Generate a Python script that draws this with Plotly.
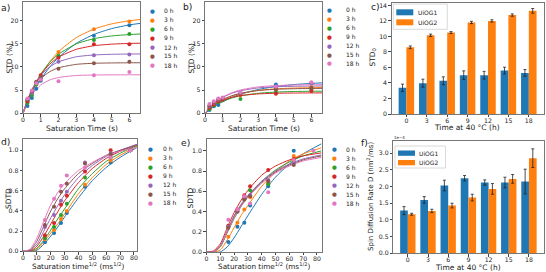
import plotly.graph_objects as go

W, H = 546, 272
def px(x): return x / W
def py(y): return 1 - y / H

FONT = "DejaVu Sans"
HOURS = ["0 h", "3 h", "6 h", "9 h", "12 h", "15 h", "18 h"]
COLORS = ["#1f77b4", "#ff7f0e", "#2ca02c", "#d62728", "#9467bd", "#8c564b", "#e377c2"]

# ---------- panel a / b : STD vs saturation time ----------
T_SAT = [0.25, 0.5, 0.75, 1, 2, 4, 6]
A_STD = [
    [1.6, 3.3, 5.3, 7.0, 12.2, 16.7, 19.0],
    [2.4, 4.3, 6.5, 7.7, 13.2, 18.1, 19.8],
    [2.2, 3.9, 6.2, 7.5, 12.4, 15.8, 17.1],
    [2.6, 4.5, 6.7, 8.2, 12.0, 14.9, 14.9],
    [3.0, 4.4, 6.6, 7.6, 11.1, 12.5, 12.7],
    [2.8, 4.8, 6.8, 7.9, 9.6, 10.8, 11.1],
    [3.2, 4.9, 6.5, 7.3, 6.9, 8.2, 8.9],
]
T_FIT = [0, 0.25, 0.5, 1, 1.5, 2, 3, 4, 5, 6, 6.6]
A_FIT = [
    [0, 2.15, 4.06, 7.32, 9.94, 12.03, 15.07, 17.01, 18.26, 19.06, 19.39],
    [0, 2.47, 4.65, 8.26, 11.08, 13.28, 16.31, 18.16, 19.28, 19.95, 20.22],
    [0, 2.66, 4.90, 8.42, 10.94, 12.73, 14.96, 16.09, 16.68, 16.98, 17.10],
    [0, 2.74, 4.98, 8.33, 10.58, 12.10, 13.79, 14.57, 14.91, 15.07, 15.11],
    [0, 2.86, 5.08, 8.14, 9.98, 11.10, 12.18, 12.58, 12.72, 12.78, 12.80],
    [0, 2.72, 4.76, 7.45, 8.96, 9.81, 10.55, 10.79, 10.86, 10.89, 10.90],
    [0, 2.35, 4.04, 6.11, 7.18, 7.72, 8.15, 8.26, 8.29, 8.30, 8.30],
]
B_STD = [
    [0.7, 1.5, 1.8, 2.8, 4.2, 6.2, 6.5],
    [1.0, 1.8, 2.5, 3.0, 4.0, 5.0, 5.6],
    [0.9, 1.7, 2.4, 2.9, 3.1, 4.5, 5.2],
    [1.2, 1.9, 2.6, 3.0, 4.0, 4.2, 4.8],
    [1.5, 2.3, 2.9, 3.3, 4.3, 5.5, 6.5],
    [1.7, 2.4, 3.0, 3.3, 4.4, 5.2, 5.5],
    [2.0, 2.6, 3.2, 3.4, 4.5, 5.8, 6.7],
]
B_FIT = [
    [0, 0.74, 1.40, 2.52, 3.41, 4.12, 5.13, 5.78, 6.19, 6.45, 6.56],
    [0, 0.92, 1.68, 2.86, 3.68, 4.25, 4.94, 5.28, 5.44, 5.52, 5.55],
    [0, 0.84, 1.53, 2.58, 3.29, 3.77, 4.32, 4.58, 4.70, 4.75, 4.77],
    [0, 0.97, 1.73, 2.78, 3.42, 3.81, 4.18, 4.32, 4.37, 4.39, 4.40],
    [0, 1.15, 2.08, 3.43, 4.30, 4.86, 5.47, 5.72, 5.82, 5.87, 5.88],
    [0, 0.98, 1.78, 2.98, 3.77, 4.31, 4.91, 5.18, 5.30, 5.36, 5.37],
    [0, 1.17, 2.11, 3.50, 4.42, 5.03, 5.69, 5.98, 6.10, 6.16, 6.17],
]

# ---------- panel c / f : bars ----------
BAR_CATS = ["0", "3", "6", "9", "12", "15", "18"]
C_G1 = [3.38, 3.98, 4.28, 5.0, 5.0, 5.6, 5.3]
C_G1_ERR = [0.47, 0.51, 0.51, 0.56, 0.5, 0.43, 0.43]
C_G2 = [8.6, 10.15, 10.5, 11.8, 12.0, 12.75, 13.3]
C_G2_ERR = [0.17, 0.15, 0.12, 0.15, 0.15, 0.15, 0.3]
F_G1 = [1.28, 1.60, 2.03, 2.25, 2.12, 2.12, 2.15]
F_G1_ERR = [0.12, 0.10, 0.16, 0.08, 0.08, 0.16, 0.37]
F_G2 = [1.17, 1.27, 1.43, 1.67, 1.93, 2.23, 2.85]
F_G2_ERR = [0.03, 0.05, 0.07, 0.10, 0.16, 0.13, 0.28]

# ---------- panel d / e : SDTD vs sqrt(time) ----------
X_SQRT = [15.8, 22.4, 27.4, 31.6, 44.7, 63.2, 77.5]
D_SDTD = [
    [0.09, 0.18, 0.28, 0.38, 0.64, 0.88, 1.00],
    [0.12, 0.21, 0.32, 0.40, 0.66, 0.90, 1.00],
    [0.13, 0.24, 0.36, 0.47, 0.73, 0.93, 1.00],
    [0.16, 0.28, 0.46, 0.55, 0.79, 1.00, 1.00],
    [0.24, 0.36, 0.50, 0.59, 0.88, 0.97, 1.00],
    [0.26, 0.44, 0.59, 0.67, 0.87, 0.96, 1.00],
    [0.31, 0.52, 0.65, 0.75, 0.83, 0.93, 1.00],
]
XD_FIT = [0, 5, 10, 15, 20, 25, 30, 40, 50, 60, 70, 82.4]
D_FIT = [
    [0, 0.00, 0.01, 0.07, 0.15, 0.24, 0.34, 0.53, 0.70, 0.83, 0.93, 1.03],
    [0, 0.00, 0.02, 0.09, 0.18, 0.27, 0.37, 0.57, 0.73, 0.86, 0.95, 1.04],
    [0, 0.00, 0.03, 0.11, 0.21, 0.32, 0.42, 0.62, 0.77, 0.89, 0.97, 1.05],
    [0, 0.00, 0.05, 0.15, 0.27, 0.39, 0.50, 0.68, 0.82, 0.92, 0.99, 1.06],
    [0, 0.01, 0.07, 0.20, 0.33, 0.45, 0.56, 0.73, 0.85, 0.94, 1.00, 1.06],
    [0, 0.01, 0.10, 0.25, 0.40, 0.52, 0.62, 0.77, 0.87, 0.95, 1.00, 1.05],
    [0, 0.02, 0.13, 0.30, 0.46, 0.58, 0.67, 0.80, 0.88, 0.95, 0.99, 1.03],
]
E_SDTD = [
    [0.10, 0.25, 0.29, 0.46, 0.65, 1.00],
    [0.15, 0.29, 0.42, 0.54, 0.68, 0.95],
    [0.25, 0.40, 0.52, 0.61, 0.67, 0.89],
    [0.26, 0.42, 0.56, 0.65, 0.81, 0.92],
    [0.25, 0.40, 0.53, 0.56, 0.71, 0.88],
    [0.24, 0.40, 0.52, 0.55, 0.70, 0.86],
    [0.32, 0.42, 0.55, 0.48, 0.59, 0.91, 1.00],
]
XE_FIT = [0, 5, 10, 15, 20, 25, 30, 40, 50, 60, 70, 83.3]
E_FIT = [
    [0, 0.00, 0.00, 0.05, 0.14, 0.25, 0.36, 0.57, 0.74, 0.87, 0.97, 1.07],
    [0, 0.00, 0.02, 0.12, 0.24, 0.36, 0.46, 0.65, 0.79, 0.90, 0.97, 1.03],
    [0, 0.00, 0.05, 0.19, 0.33, 0.45, 0.55, 0.70, 0.81, 0.89, 0.95, 1.00],
    [0, 0.01, 0.08, 0.24, 0.39, 0.51, 0.61, 0.76, 0.85, 0.91, 0.95, 0.98],
    [0, 0.00, 0.06, 0.21, 0.36, 0.47, 0.56, 0.70, 0.80, 0.87, 0.92, 0.96],
    [0, 0.00, 0.06, 0.20, 0.35, 0.46, 0.55, 0.69, 0.79, 0.86, 0.91, 0.95],
    [0, 0.00, 0.06, 0.20, 0.34, 0.45, 0.54, 0.68, 0.78, 0.85, 0.90, 0.935],
]

fig = go.Figure()

def add_series(xs, ys_list, xf, fits, ax):
    for i in range(7):
        fig.add_trace(go.Scatter(x=xf, y=fits[i], mode="lines",
                                 line=dict(color=COLORS[i], width=1, shape="spline", smoothing=0.6),
                                 xaxis="x" + ax, yaxis="y" + ax, showlegend=False, hoverinfo="skip"))
    for i in range(7):
        fig.add_trace(go.Scatter(x=xs[:len(ys_list[i])], y=ys_list[i], mode="markers",
                                 marker=dict(color=COLORS[i], size=4), cliponaxis=False,
                                 xaxis="x" + ax, yaxis="y" + ax, showlegend=False))

add_series(T_SAT, A_STD, T_FIT, A_FIT, "")
add_series(T_SAT, B_STD, T_FIT, B_FIT, "2")
add_series(X_SQRT, D_SDTD, XD_FIT, D_FIT, "4")
add_series(X_SQRT, E_SDTD, XE_FIT, E_FIT, "5")

def add_bars(g1, e1, g2, e2, ax):
    idx = list(range(len(BAR_CATS)))
    for vals, errs, col in ((g1, e1, COLORS[0]), (g2, e2, COLORS[1])):
        fig.add_trace(go.Bar(x=idx, y=vals, marker=dict(color=col, line=dict(width=0)),
                             error_y=dict(type="data", array=errs, color="#222", thickness=0.8, width=1.5),
                             xaxis="x" + ax, yaxis="y" + ax, showlegend=False))

add_bars(C_G1, C_G1_ERR, C_G2, C_G2_ERR, "3")
add_bars(F_G1, F_G1_ERR, F_G2, F_G2_ERR, "6")

TICKFONT = dict(family=FONT, size=6.2, color="#222")
def axis(domain, rng, **kw):
    d = dict(domain=domain, range=rng, showline=True, mirror=True, linecolor="#777", linewidth=0.8,
             ticks="outside", ticklen=2.5, tickwidth=0.7, tickcolor="#444", tickfont=TICKFONT,
             showgrid=False, zeroline=False, automargin=False)
    d.update(kw)
    return d

XSO = -2  # pull x tick labels slightly toward the axis

layout = dict(
    width=W, height=H, margin=dict(l=0, r=0, t=0, b=0),
    paper_bgcolor="white", plot_bgcolor="white", template="none",
    barmode="group", bargap=0.24, bargroupgap=0, showlegend=False,
    font=dict(family=FONT, size=7, color="#222"),
)
# a
layout["xaxis"] = axis([px(23), px(140)], [0, 6.6], tickvals=list(range(7)), anchor="y", ticklabelstandoff=XSO)
layout["yaxis"] = axis([py(113.3), py(2)], [0, 24], tickvals=[0, 5, 10, 15, 20], anchor="x")
# b
layout["xaxis2"] = axis([px(205), px(322)], [0, 6.6], tickvals=list(range(7)), anchor="y2", ticklabelstandoff=XSO)
layout["yaxis2"] = axis([py(113.3), py(2)], [0, 24], tickvals=[0, 5, 10, 15, 20], anchor="x2")
# c
layout["xaxis3"] = axis([px(391.7), px(543.5)], [-0.72, 6.72], tickvals=list(range(7)), ticktext=BAR_CATS, anchor="y3", ticklabelstandoff=XSO)
layout["yaxis3"] = axis([py(114), py(2.7)], [0, 14.35], tickvals=list(range(0, 15, 2)), anchor="x3")
# d
layout["xaxis4"] = axis([px(23), px(137.3)], [0, 82.4], tickvals=list(range(0, 81, 10)), anchor="y4", ticklabelstandoff=XSO)
layout["yaxis4"] = axis([py(251.3), py(138.7)], [0, 1.115], tickvals=[0, 0.2, 0.4, 0.6, 0.8, 1.0], tickformat=".1f", anchor="x4")
# e
layout["xaxis5"] = axis([px(206.5), px(321.5)], [0, 83.3], tickvals=list(range(0, 81, 10)), anchor="y5", ticklabelstandoff=XSO)
layout["yaxis5"] = axis([py(252), py(138.7)], [0, 1.12], tickvals=[0, 0.2, 0.4, 0.6, 0.8, 1.0], tickformat=".1f", anchor="x5")
# f
layout["xaxis6"] = axis([px(393.3), px(543.5)], [-0.72, 6.72], tickvals=list(range(7)), ticktext=BAR_CATS, anchor="y6", ticklabelstandoff=XSO)
layout["yaxis6"] = axis([py(253.3), py(140.5)], [0, 3.38], tickvals=[0, 0.5, 1.0, 1.5, 2.0, 2.5, 3.0], tickformat=".1f", anchor="x6")

annotations = []
shapes = []
def ann(text, x, y, size=7.5, xanchor="center", yanchor="middle", angle=0, color="#222"):
    annotations.append(dict(text=text, x=px(x), y=py(y), xref="paper", yref="paper", showarrow=False,
                            xanchor=xanchor, yanchor=yanchor, textangle=angle, borderpad=0,
                            font=dict(family=FONT, size=size, color=color)))

# panel letters
for t, x, y in (("a)", 0, 7), ("b)", 181.5, 6.5), ("c)", 370, 6.7), ("d)", 0, 141.5), ("e)", 180, 142.5), ("f)", 359.5, 142)):
    ann(t, x, y, size=9.2, xanchor="left")

# axis titles
ann("Saturation Time (s)", 82, 128)
ann("STD (%)", 8.5, 58, angle=-90)
ann("Saturation Time (s)", 264, 128)
ann("STD (%)", 190.5, 58, angle=-90)
ann("Time at 40 °C (h)", 467, 127.5)
ann("STD<sub>0</sub>", 372.5, 58, angle=-90)
ann("Saturation time<sup>1/2</sup> (ms<sup>1/2</sup>)", 78, 259.8, size=7.3, yanchor="top")
ann("SDTD", 8, 199, angle=-90)
ann("Saturation time<sup>1/2</sup> (ms<sup>1/2</sup>)", 264, 259.8, size=7.3, yanchor="top")
ann("SDTD", 189.5, 198, angle=-90)
ann("Time at 40 °C (h)", 468, 267)
ann("Spin Diffusion Rate D (nm<sup>2</sup>/ms)", 370, 197, size=7, angle=-90)
ann("1e−4", 393, 140.5, size=4, xanchor="left", yanchor="bottom")

# dot legends
def dot_legend(mx, tx, y0, dy):
    for i, lab in enumerate(HOURS):
        y = y0 + i * dy
        ann("●", mx, y, size=5.5, color=COLORS[i])
        ann(lab, tx, y, size=6, xanchor="left")

dot_legend(152, 162.5, 11, 9)
dot_legend(329.5, 344.5, 10, 8.9)
dot_legend(150.7, 161.5, 148.7, 9)
dot_legend(334, 345, 149.3, 9)

# bar legends
def bar_legend(x0, y0, x1, y1, p1, p2, tx):
    shapes.append(dict(type="rect", xref="paper", yref="paper", x0=px(x0), x1=px(x1), y0=py(y0), y1=py(y1),
                       line=dict(color="#d0d0d0", width=0.8), fillcolor="rgba(255,255,255,0.8)", layer="above"))
    for (ya, yb), col, lab in ((p1, COLORS[0], "UiOG1"), (p2, COLORS[1], "UiOG2")):
        shapes.append(dict(type="rect", xref="paper", yref="paper", x0=px(x0 + 3), x1=px(x0 + 20),
                           y0=py(ya), y1=py(yb), line=dict(width=0), fillcolor=col, layer="above"))
        ann(lab, tx, (ya + yb) / 2, size=6, xanchor="left")

bar_legend(393.3, 4, 447.3, 29.3, (9.3, 15.3), (19.3, 25.3), 416.7)
bar_legend(395, 146, 445.5, 168, (150.5, 155.8), (160, 165.3), 418.3)

layout["annotations"] = annotations
layout["shapes"] = shapes
fig.update_layout(**layout)
fig.write_html("out.html")
